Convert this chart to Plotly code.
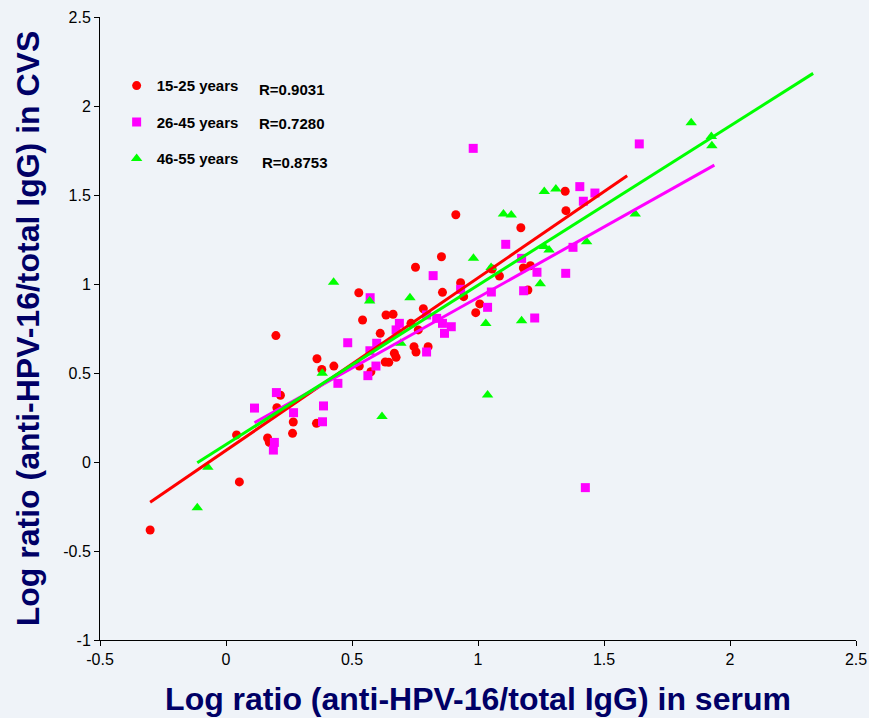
import plotly.graph_objects as go

# ---- data ----
red_x = [-0.301, 0.042, 0.053, 0.165, 0.172, 0.198, 0.202, 0.216, 0.264, 0.267, 0.359, 0.361, 0.380,
         0.428, 0.527, 0.529, 0.542, 0.575, 0.612, 0.632, 0.646, 0.635, 0.663, 0.668, 0.675,
         0.734, 0.746, 0.754, 0.752, 0.763, 0.783, 0.802, 0.855, 0.859, 0.912, 0.931, 0.943,
         0.991, 1.007, 1.056, 1.085, 1.170, 1.180, 1.198, 1.208, 1.346, 1.349]
red_y = [-0.382, 0.152, -0.112, 0.135, 0.11, 0.71, 0.305, 0.375, 0.161, 0.225, 0.217, 0.58, 0.52,
         0.539, 0.951, 0.539, 0.798, 0.507, 0.723, 0.562, 0.56, 0.826, 0.83, 0.611, 0.588,
         0.779, 0.648, 0.618, 1.094, 0.742, 0.861, 0.648, 1.153, 0.953, 1.389, 1.007, 0.929,
         0.839, 0.888, 1.084, 1.045, 1.316, 1.09, 0.966, 1.103, 1.521, 1.412]

mag_x = [0.113, 0.188, 0.192, 0.200, 0.268, 0.383, 0.387, 0.444, 0.483, 0.563, 0.571, 0.572, 0.595,
         0.598, 0.675, 0.688, 0.796, 0.796, 0.822, 0.836, 0.859, 0.867, 0.894, 0.931, 0.981,
         1.038, 1.053, 1.110, 1.173, 1.181, 1.225, 1.234, 1.348, 1.377, 1.404, 1.418, 1.426,
         1.464, 1.640]
mag_y = [0.303, 0.067, 0.11, 0.39, 0.277, 0.226, 0.315, 0.442, 0.67, 0.485, 0.625, 0.923, 0.539,
         0.667, 0.742, 0.779, 0.618, 0.826, 1.047, 0.807, 0.779, 0.723, 0.76, 0.97, 1.762,
         0.869, 0.955, 1.223, 1.144, 0.962, 0.809, 1.066, 1.06, 1.206, 1.547, 1.465, -0.144,
         1.511, 1.787]

grn_x = [-0.114, -0.072, 0.382, 0.427, 0.570, 0.619, 0.694, 0.730, 0.982, 1.031, 1.038, 1.052,
         1.101, 1.132, 1.173, 1.247, 1.263, 1.309, 1.263, 1.282, 1.431, 1.624, 1.846, 1.926, 1.928]
grn_y = [-0.257, -0.03, 0.498, 1.01, 0.904, 0.255, 0.667, 0.923, 1.144, 0.778, 0.376, 1.092,
         1.393, 1.388, 0.794, 1.002, 1.519, 1.534, 1.21, 1.191, 1.238, 1.393, 1.906, 1.828, 1.777]

group_names = ["15-25 years", "26-45 years", "46-55 years"]
r_labels = ["R=0.9031", "R=0.7280", "R=0.8753"]
colors = ["#FF0000", "#FF00FF", "#00FF00"]
symbols = ["circle", "square", "triangle-up"]

# regression lines: slope, intercept, x range
fit_slope = [0.969, 0.793, 0.895]
fit_icpt = [0.0655, 0.131, 0.098]
fit_x0 = [-0.301, 0.113, -0.114]
fit_x1 = [1.592, 1.938, 2.330]

xs = [red_x, mag_x, grn_x]
ys = [red_y, mag_y, grn_y]
msize = [9, 9, 10]

fig = go.Figure()
for i in range(3):
    fig.add_trace(go.Scatter(
        x=xs[i], y=ys[i], mode="markers", name=group_names[i],
        legendgroup=f"g{i}",
        marker=dict(symbol=symbols[i], color=colors[i], size=msize[i], line=dict(width=0)),
    ))
for i in range(3):
    lx = [fit_x0[i], fit_x1[i]]
    ly = [fit_slope[i] * v + fit_icpt[i] for v in lx]
    fig.add_trace(go.Scatter(x=lx, y=ly, mode="lines", showlegend=False,
                             line=dict(color=colors[i], width=3)))

navy = "#000066"
tickfont = dict(family="Liberation Sans Narrow, Arial Narrow, Liberation Sans, Arial", size=16, color="black")
fig.update_layout(
    width=869, height=718,
    margin=dict(l=100, r=13, t=17, b=78, autoexpand=False),
    paper_bgcolor="#EFF3F8", plot_bgcolor="#EFF3F8",
    showlegend=True,
    legend=dict(x=0.022, y=0.916, xanchor="left", yanchor="top",
                bgcolor="rgba(0,0,0,0)", tracegroupgap=14, traceorder="grouped",
                font=dict(family="Liberation Sans Narrow, Arial Narrow, Arial", size=15, color="black",
                          weight="bold")),
    xaxis=dict(range=[-0.5, 2.5], tickvals=[-0.5, 0, 0.5, 1, 1.5, 2, 2.5], automargin=False,
               ticktext=["-0.5", "0", "0.5", "1", "1.5", "2", "2.5"],
               showgrid=False, zeroline=False, showline=True, linecolor="black", linewidth=1,
               ticks="outside", ticklen=5, tickcolor="black", tickfont=tickfont,
               title=dict(text="<b>Log ratio (anti-HPV-16/total IgG) in serum</b>",
                          font=dict(family="Liberation Sans, Arial", size=32, color=navy), standoff=20)),
    yaxis=dict(range=[-1, 2.5], tickvals=[-1, -0.5, 0, 0.5, 1, 1.5, 2, 2.5], automargin=False,
               ticktext=["-1", "-0.5", "0", "0.5", "1", "1.5", "2", "2.5"],
               showgrid=False, zeroline=False, showline=True, linecolor="black", linewidth=1,
               ticks="outside", ticklen=5, tickcolor="black", tickfont=tickfont,
               title=dict(text="<b>Log ratio (anti-HPV-16/total IgG) in CVS</b>",
                          font=dict(family="Liberation Sans, Arial", size=32, color=navy), standoff=14)),
)

r_y = [0.883, 0.829, 0.766]
r_x = [0.208, 0.208, 0.212]
for i in range(3):
    fig.add_annotation(x=r_x[i], y=r_y[i], xref="paper", yref="paper", xanchor="left", yanchor="middle",
                       text=f"<b>{r_labels[i]}</b>", showarrow=False,
                       font=dict(family="Liberation Sans Narrow, Arial Narrow, Arial", size=15, color="black"))

fig.write_html("out.html")
